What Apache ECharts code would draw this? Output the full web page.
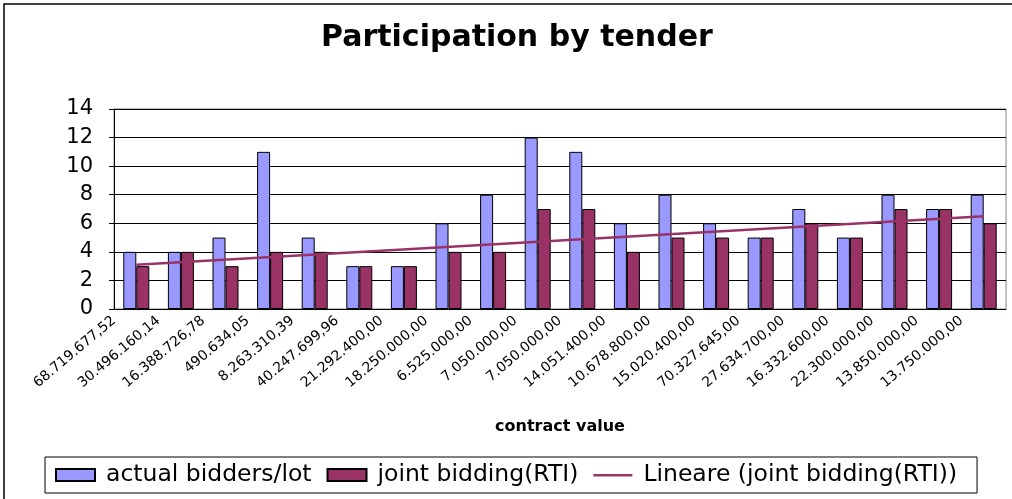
<!DOCTYPE html>
<html>
<head>
<meta charset="utf-8">
<script src="https://cdn.jsdelivr.net/npm/echarts@6/dist/echarts.min.js"></script>
<style>
  html, body { margin: 0; padding: 0; background: #fff; }
  #chart { width: 1012px; height: 499px; }
</style>
</head>
<body>
<div id="chart"></div>
<script>
// contract values (x axis categories)
var contractValues = ['68.719.677,52', '30.496.160,14', '16.388.726,78', '490.634,05', '8.263.310,39',
    '40.247.699,96', '21.292.400,00', '18.250.000,00', '6.525.000,00', '7.050.000,00',
    '7.050.000,00', '14.051.400,00', '10.678.800,00', '15.020.400,00', '70.327.645,00',
    '27.634.700,00', '16.332.600,00', '22.300.000,00', '13.850.000,00', '13.750.000,00'];
var actualBidders = [4, 4, 5, 11, 5, 3, 3, 6, 8, 12, 11, 6, 8, 6, 5, 7, 5, 8, 7, 8];
var jointBidding = [3, 4, 3, 4, 4, 3, 3, 4, 4, 7, 7, 4, 5, 5, 5, 6, 5, 7, 7, 6];
// linear trend of joint bidding, first and last point
var trendEnds = [3.1, 6.5];
var yTicks = [0, 2, 4, 6, 8, 10, 12, 14];

var trendData = contractValues.map(function (c, i) {
    if (i === 0) return trendEnds[0];
    if (i === contractValues.length - 1) return trendEnds[1];
    return null;
});

var myChart = echarts.init(document.getElementById('chart'));
var option = {
    animation: false,
    textStyle: { fontFamily: 'DejaVu Sans' },
    title: {
        text: 'Participation by tender',
        left: 316,
        top: 18,
        textStyle: { fontFamily: 'DejaVu Sans', fontWeight: 'bold', fontSize: 30, color: '#000' }
    },
    legend: {
        left: 45,
        top: 457,
        padding: [6, 20, 6, 10],
        itemGap: 15,
        itemWidth: 39,
        itemHeight: 12,
        borderColor: '#000',
        borderWidth: 1,
        textStyle: { fontFamily: 'DejaVu Sans', fontSize: 23.5, color: '#000', padding: [0, 0, 0, 6] },
        data: [
            { name: 'actual bidders/lot', icon: 'rect' },
            { name: 'joint bidding(RTI)', icon: 'rect' },
            // thin line glyph: the extra moveTo points keep the icon box 39x12
            { name: 'Lineare (joint bidding(RTI))', icon: 'path://M0,0 M39,12 M0,5 L39,5 L39,7.5 L0,7.5 Z' }
        ]
    },
    grid: {
        left: 114,
        right: 6,
        top: 109,
        bottom: 190,
        show: true,
        borderColor: '#808080',
        borderWidth: 1
    },
    xAxis: [{
        type: 'category',
        position: 'bottom',
        data: contractValues,
        axisLine: { lineStyle: { color: '#000' } },
        axisTick: { length: 5, lineStyle: { color: '#000' } },
        axisLabel: { show: false },
        name: 'contract value',
        nameLocation: 'middle',
        nameGap: 110,
        nameTextStyle: { fontFamily: 'DejaVu Sans', fontWeight: 'bold', fontSize: 16, color: '#000' }
    }, {
        // label axis: Excel puts each label at the left boundary of its category
        type: 'category',
        position: 'bottom',
        boundaryGap: false,
        data: contractValues.concat(['']),
        axisLine: { show: false },
        axisTick: { show: false },
        splitLine: { show: false },
        axisLabel: {
            interval: 0,
            rotate: 40,
            margin: 10,
            fontFamily: 'DejaVu Sans',
            fontSize: 14,
            color: '#000'
        }
    }],
    yAxis: {
        type: 'value',
        min: yTicks[0],
        max: yTicks[yTicks.length - 1],
        interval: 2,
        axisLine: { show: true, lineStyle: { color: '#000' } },
        axisTick: { show: true, length: 5, lineStyle: { color: '#000' } },
        axisLabel: { fontFamily: 'DejaVu Sans', fontSize: 21, color: '#000', margin: 21 },
        splitLine: { lineStyle: { color: '#000', width: 1 } }
    },
    series: [{
        name: 'actual bidders/lot',
        type: 'bar',
        xAxisIndex: 0,
        barWidth: 13,
        barGap: '0%',
        itemStyle: { color: '#9999FF', borderColor: '#000', borderWidth: 1 },
        data: actualBidders
    }, {
        name: 'joint bidding(RTI)',
        type: 'bar',
        xAxisIndex: 0,
        barWidth: 13,
        barGap: '0%',
        itemStyle: { color: '#993366', borderColor: '#000', borderWidth: 1 },
        data: jointBidding
    }, {
        name: 'Lineare (joint bidding(RTI))',
        type: 'line',
        xAxisIndex: 0,
        symbol: 'none',
        connectNulls: true,
        z: 5,
        lineStyle: { color: '#993366', width: 2.5 },
        itemStyle: { color: '#993366' },
        data: trendData
    }],
    graphic: [{
        type: 'rect',
        shape: { x: 4, y: 4, width: 1030, height: 520 },
        style: { fill: 'none', stroke: '#000', lineWidth: 1.5 },
        silent: true
    }]
};

myChart.setOption(option);

window.onresize = function () {
    myChart.resize();
};
</script>
</body>
</html>
